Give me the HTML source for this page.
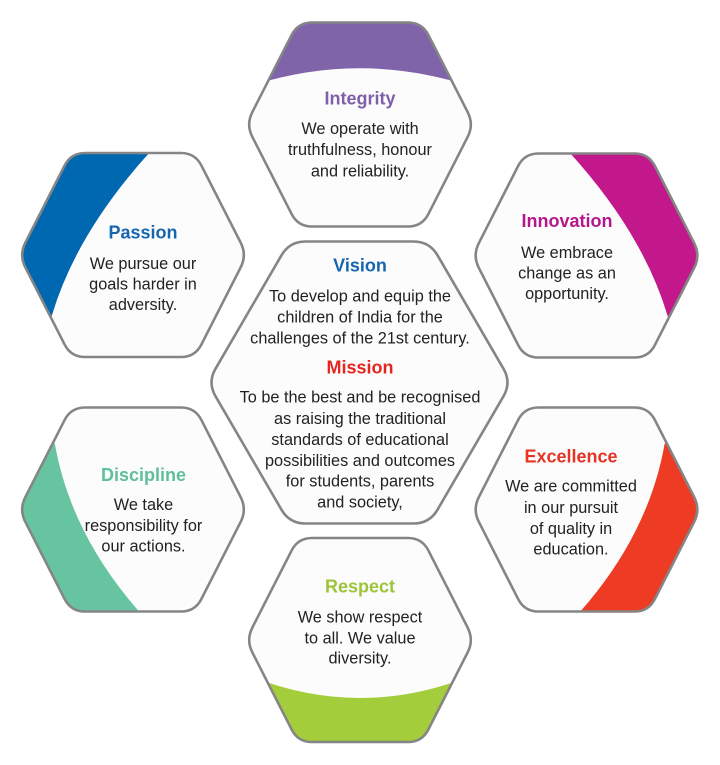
<!DOCTYPE html>
<html>
<head>
<meta charset="utf-8">
<style>
  html, body { margin:0; padding:0; background:#ffffff; }
  svg { display:block; }
  .t { font-family:"Liberation Sans", sans-serif; font-weight:bold; font-size:18px; text-anchor:middle; }
  .b { font-family:"Liberation Sans", sans-serif; font-size:16.3px; fill:#222222; text-anchor:middle; }
</style>
</head>
<body>
<svg width="720" height="765" viewBox="0 0 720 765" xmlns="http://www.w3.org/2000/svg">
  <defs>
    <path id="ho" d="M-48,-102 L48,-102 Q62,-102 68.36,-89.53 L107.64,-12.47 Q114,0 107.64,12.47 L68.36,89.53 Q62,102 48,102 L-48,102 Q-62,102 -68.36,89.53 L-107.64,12.47 Q-114,0 -107.64,-12.47 L-68.36,-89.53 Q-62,-102 -48,-102Z"/>
    <path id="hc" d="M-54,-141 L54,-141 Q70,-141 78.04,-127.17 L143.96,-13.83 Q152,0 143.96,13.83 L78.04,127.17 Q70,141 54,141 L-54,141 Q-70,141 -78.04,127.17 L-143.96,13.83 Q-152,0 -143.96,-13.83 L-78.04,-127.17 Q-70,-141 -54,-141Z"/>
    <clipPath id="co">
      <path d="M-48,-102 L48,-102 Q62,-102 68.36,-89.53 L107.64,-12.47 Q114,0 107.64,12.47 L68.36,89.53 Q62,102 48,102 L-48,102 Q-62,102 -68.36,89.53 L-107.64,12.47 Q-114,0 -107.64,-12.47 L-68.36,-89.53 Q-62,-102 -48,-102Z"/>
    </clipPath>
  </defs>

  <!-- Integrity -->
  <g transform="translate(360,124.5)">
    <use href="#ho" fill="#fcfcfc"/>
    <path clip-path="url(#co)" fill="#8064aa" d="M-130,-31.4 Q0,-81 130,-31.4 L130,-130 L-130,-130Z"/>
    <use href="#ho" fill="none" stroke="#858585" stroke-width="2.6"/>
  </g>

  <!-- Passion -->
  <g transform="translate(133,255)">
    <use href="#ho" fill="#fcfcfc"/>
    <path clip-path="url(#co)" fill="#0067b1" d="M40,-128 L17,-103 Q-56.3,-22.4 -81,60 L-100,120 L-200,120 L-200,-200 L40,-200Z"/>
    <use href="#ho" fill="none" stroke="#858585" stroke-width="2.6"/>
  </g>

  <!-- Innovation -->
  <g transform="translate(586.5,255.5)">
    <use href="#ho" fill="#fcfcfc"/>
    <path clip-path="url(#co)" fill="#c2188b" d="M-40,-128 L-17,-103 Q56.3,-22.4 81,60 L100,120 L200,120 L200,-200 L-40,-200Z"/>
    <use href="#ho" fill="none" stroke="#858585" stroke-width="2.6"/>
  </g>

  <!-- Discipline -->
  <g transform="translate(133,509.5)">
    <use href="#ho" fill="#fcfcfc"/>
    <path clip-path="url(#co)" fill="#67c4a1" d="M30,128 L7,103 Q-62,25 -78,-65 L-100,-120 L-200,-120 L-200,200 L30,200Z"/>
    <use href="#ho" fill="none" stroke="#858585" stroke-width="2.6"/>
  </g>

  <!-- Excellence -->
  <g transform="translate(586.5,509.5)">
    <use href="#ho" fill="#fcfcfc"/>
    <path clip-path="url(#co)" fill="#ee3b24" d="M-30,128 L-7,103 Q62,25 78,-65 L100,-120 L200,-120 L200,200 L-30,200Z"/>
    <use href="#ho" fill="none" stroke="#858585" stroke-width="2.6"/>
  </g>

  <!-- Respect -->
  <g transform="translate(360,640)">
    <use href="#ho" fill="#fcfcfc"/>
    <path clip-path="url(#co)" fill="#a3cd3a" d="M-130,27.4 Q0,88.6 130,27.4 L130,130 L-130,130Z"/>
    <use href="#ho" fill="none" stroke="#858585" stroke-width="2.6"/>
  </g>

  <!-- Center -->
  <g transform="translate(359.5,382.5)">
    <use href="#hc" fill="#fcfcfc" stroke="#858585" stroke-width="2.6"/>
  </g>

  <!-- Texts -->
  <text class="t" x="360" y="104.3" fill="#7f5fa8">Integrity</text>
  <text class="b" x="360" y="134">We operate with</text>
  <text class="b" x="360" y="155">truthfulness, honour</text>
  <text class="b" x="360" y="176.5">and reliability.</text>

  <text class="t" x="143" y="238.3" fill="#1565b0">Passion</text>
  <text class="b" x="143" y="269">We pursue our</text>
  <text class="b" x="143" y="289.5">goals harder in</text>
  <text class="b" x="143" y="310">adversity.</text>

  <text class="t" x="567" y="227" fill="#b5178a">Innovation</text>
  <text class="b" x="567" y="258">We embrace</text>
  <text class="b" x="567" y="278.5">change as an</text>
  <text class="b" x="567" y="299">opportunity.</text>

  <text class="t" x="360" y="271.7" fill="#1565b0">Vision</text>
  <text class="b" x="360" y="301.7">To develop and equip the</text>
  <text class="b" x="360" y="322.7">children of India for the</text>
  <text class="b" x="360" y="343.3">challenges of the 21st century.</text>
  <text class="t" x="360" y="373.3" fill="#e5261f">Mission</text>
  <text class="b" x="360" y="402.7">To be the best and be recognised</text>
  <text class="b" x="360" y="424">as raising the traditional</text>
  <text class="b" x="360" y="445">standards of educational</text>
  <text class="b" x="360" y="466">possibilities and outcomes</text>
  <text class="b" x="360" y="486.7">for students, parents</text>
  <text class="b" x="360" y="507.3">and society,</text>

  <text class="t" x="143.5" y="481" fill="#5fbf99">Discipline</text>
  <text class="b" x="143.5" y="510">We take</text>
  <text class="b" x="143.5" y="531">responsibility for</text>
  <text class="b" x="143.5" y="551.7">our actions.</text>

  <text class="t" x="571" y="462.3" fill="#e53424">Excellence</text>
  <text class="b" x="571" y="491.7">We are committed</text>
  <text class="b" x="571" y="513">in our pursuit</text>
  <text class="b" x="571" y="534">of quality in</text>
  <text class="b" x="571" y="554.5">education.</text>

  <text class="t" x="360" y="592.3" fill="#9dc43a">Respect</text>
  <text class="b" x="360" y="622.3">We show respect</text>
  <text class="b" x="360" y="643.3">to all. We value</text>
  <text class="b" x="360" y="663.5">diversity.</text>
</svg>
</body>
</html>
